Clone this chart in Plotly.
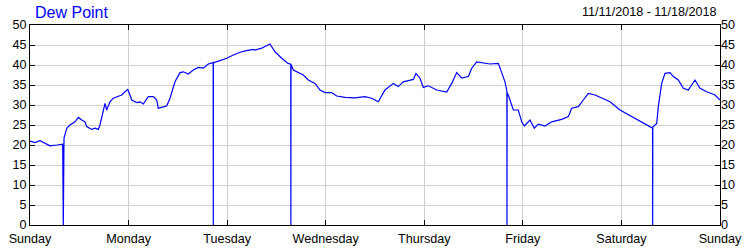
import plotly.graph_objects as go

# Hours since Sunday 00:00 (11/11/2018)
hours = [0, 1.22, 2.43, 3.65, 4.87, 6.57, 7.96, 8.11, 8.28, 8.94, 9.74, 10.96, 11.76, 12.59,
         13.39, 13.80, 15.02, 15.83, 16.63, 17.04, 17.60, 18.26, 18.67, 19.06, 19.48, 20.28,
         21.50, 22.33, 23.13, 23.79, 24.35, 24.76, 25.98, 26.78, 27.59, 28.80, 30.02, 30.85,
         31.24, 32.07, 33.28, 34.09, 35.30, 36.52, 37.33, 38.54, 39.76, 40.98, 42.20, 43.41,
         44.60, 44.63, 44.66, 46.26, 47.89, 49.50, 51.13, 52.76, 54.37, 54.78, 56.42, 58.43,
         59.65, 61.29, 62.82, 63.49, 63.52, 63.55, 64.11, 65.33, 66.55, 67.76, 69.39, 70.61, 71.83,
         73.46, 74.67, 76.70, 79.13, 81.57, 83.20, 84.0, 84.81, 86.43, 88.46, 89.67, 90.89,
         93.33, 93.98, 94.96, 95.76, 96.98, 99.02, 101.46, 102.68, 103.89, 105.11, 106.72,
         107.55, 108.76, 110.37, 112.0, 114.03, 114.85, 115.65, 116.11, 116.14, 116.17,
         116.46, 117.68, 118.89, 119.72, 120.35, 121.74, 122.79, 123.76, 125.39, 127.02,
         129.46, 131.07, 131.89, 133.50, 134.72, 135.94, 137.57, 139.20, 141.22, 143.65,
         146.90, 150.16, 151.58, 151.61, 151.64, 152.59, 152.98, 153.80, 154.61, 155.83,
         156.63, 157.85, 159.07, 160.28, 161.91, 163.13, 164.76, 166.78, 168.0]
dew_point = [21.0, 20.6, 21.1, 20.5, 19.8, 20.0, 20.2, 0, 21.7, 24.2, 25.0, 25.8, 26.9, 26.25,
             25.8, 24.6, 23.9, 24.2, 23.9, 25.0, 27.5, 30.4, 28.75, 30.0, 30.8, 31.7,
             32.1, 32.5, 33.3, 33.9, 32.5, 31.25, 30.6, 30.8, 30.25, 32.1, 32.1, 31.25,
             29.2, 29.4, 29.75, 31.7, 35.8, 38.1, 38.3, 37.75, 38.75, 39.4, 39.2, 40.25,
             40.6, 0, 40.6, 41.1, 41.7, 42.5, 43.2, 43.6, 43.9, 43.75, 44.2, 45.25,
             43.3, 41.7, 40.4, 40.2, 0, 40.1, 38.75, 38.2, 37.5, 36.25, 35.4, 33.75, 33.1,
             33.1, 32.25, 31.9, 31.8, 32.1, 31.7, 31.25, 30.8, 33.75, 35.4, 34.6, 35.8,
             36.4, 37.9, 36.7, 34.4, 34.8, 33.75, 33.25, 35.4, 38.1, 36.7, 37.1,
             39.2, 40.8, 40.6, 40.25, 40.4, 38.3, 35.8, 33.5, 0, 33.0,
             32.5, 28.75, 28.75, 25.8, 24.75, 26.25, 24.2, 25.2, 24.75, 25.8,
             26.4, 27.1, 29.2, 29.6, 31.25, 32.9, 32.5, 31.7, 30.8, 28.75,
             26.9, 25.0, 24.2, 0, 24.5, 25.4, 29.6, 35.4, 37.9, 38.1,
             37.1, 36.25, 34.2, 33.75, 36.25, 34.2, 33.3, 32.5, 31.25]

day_ticks = [0, 24, 48, 72, 96, 120, 144, 168]
day_labels = ["Sunday", "Monday", "Tuesday", "Wednesday", "Thursday", "Friday", "Saturday", "Sunday"]
y_ticks = list(range(0, 51, 5))

title_text = "Dew Point"
date_text = "11/11/2018 - 11/18/2018"

FONT = "Liberation Sans, Arial, sans-serif"

fig = go.Figure()
fig.add_trace(go.Scatter(x=hours, y=dew_point, mode="lines",
                         line=dict(color="#0000FF", width=1.2), showlegend=False))
fig.add_trace(go.Scatter(x=[None], y=[None], yaxis="y2", showlegend=False, hoverinfo="skip"))

fig.update_layout(
    width=750, height=250,
    margin=dict(l=30, r=30, t=25, b=25, autoexpand=False),
    paper_bgcolor="white", plot_bgcolor="white",
    font=dict(family=FONT, size=12.6, color="#000000"),
    xaxis=dict(range=[0, 168], tickvals=day_ticks, ticktext=day_labels,
               showgrid=True, gridcolor="#d0d0d0", gridwidth=1,
               showline=True, linecolor="black", linewidth=1, mirror="ticks",
               ticks="inside", ticklen=5, tickcolor="black", zeroline=False,
               automargin=False, ticklabelstandoff=2, tickfont=dict(size=12.6)),
    yaxis=dict(range=[0, 50], tickvals=y_ticks,
               showgrid=True, gridcolor="#d0d0d0", gridwidth=1,
               showline=True, linecolor="black", linewidth=1, mirror="ticks",
               ticks="inside", ticklen=5, tickcolor="black", zeroline=False,
               automargin=False, tickfont=dict(size=12.6)),
    yaxis2=dict(range=[0, 50], tickvals=y_ticks, overlaying="y", side="right",
                showgrid=False, showline=False, ticks="", zeroline=False,
                automargin=False, tickfont=dict(size=12.6)),
    annotations=[
        dict(text=title_text, x=33, y=12, xref="paper", yref="paper", showarrow=False,
             xanchor="left", yanchor="middle", font=dict(size=16, color="#0000FF")),
        dict(text=date_text, x=718, y=12, xref="paper", yref="paper", showarrow=False,
             xanchor="right", yanchor="middle", font=dict(size=12.6, color="#000000")),
    ],
)
# annotations in pixel positions: convert to paper coordinates
pw, ph = 750 - 60, 250 - 50
for a in fig.layout.annotations:
    a.x = (a.x - 30) / pw
    a.y = (250 - 25 - a.y) / ph

fig.write_html("out.html")
